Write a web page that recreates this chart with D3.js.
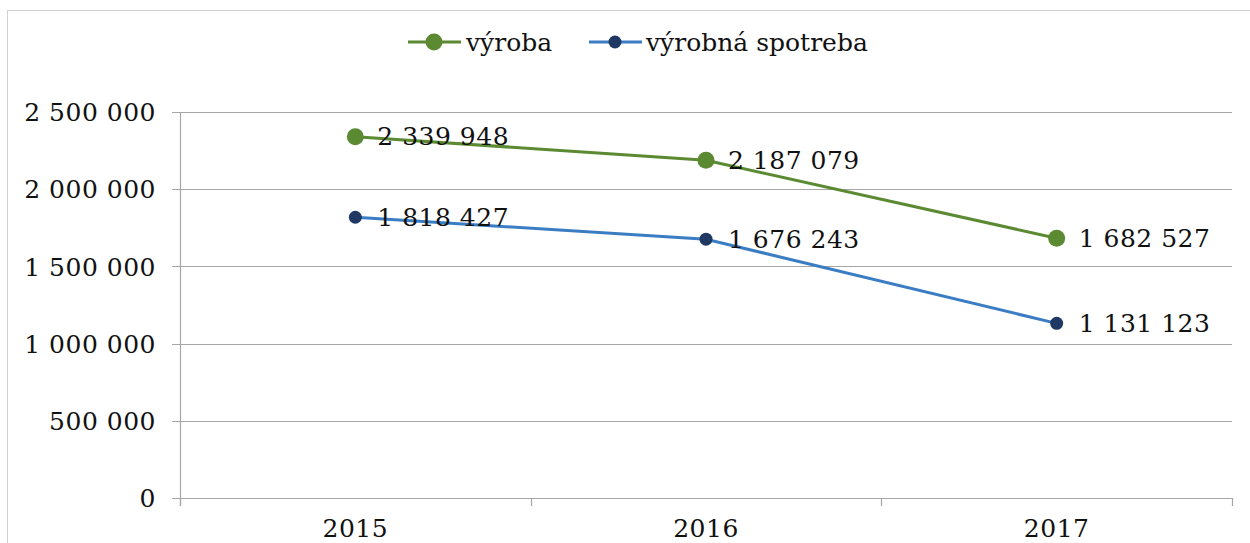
<!DOCTYPE html>
<html>
<head>
<meta charset="utf-8">
<script src="https://cdn.jsdelivr.net/npm/d3@7"></script>
<style>
  html, body { margin: 0; padding: 0; background: #fff; }
  svg { display: block; }
  text { font-family: "DejaVu Serif", serif; fill: #111; }
</style>
</head>
<body>
<svg id="chart" width="1250" height="543"></svg>
<script>
const categories = ["2015", "2016", "2017"];
const seriesNames = ["výroba", "výrobná spotreba"];
const vyroba = [2339948, 2187079, 1682527];
const spotreba = [1818427, 1676243, 1131123];
const yTicks = [0, 500000, 1000000, 1500000, 2000000, 2500000];

const FS = 25;
const svg = d3.select("#chart");

// outer frame
svg.append("rect").attr("x", 7.5).attr("y", 10.5).attr("width", 1260).attr("height", 560)
  .attr("fill", "none").attr("stroke", "#d0d0d0").attr("stroke-width", 1);

const x = d3.scaleBand().domain(categories).range([180, 1232]).padding(0);
const y = d3.scaleLinear().domain([0, 2500000]).range([498, 112]);

const fmt = v => d3.format(",")(v).replace(/,/g, " ");

// grid lines
svg.append("g").selectAll("line").data(yTicks).join("line")
  .attr("x1", 172).attr("x2", 1232)
  .attr("y1", d => Math.round(y(d)) + 0.5).attr("y2", d => Math.round(y(d)) + 0.5)
  .attr("stroke", "#a6a6a6").attr("stroke-width", 1.2);

// y axis line
svg.append("line").attr("x1", 180.5).attr("x2", 180.5).attr("y1", 112).attr("y2", 506)
  .attr("stroke", "#a6a6a6").attr("stroke-width", 1.2);

// y labels
const yAxis = d3.axisLeft(y).tickValues(yTicks).tickSize(0).tickPadding(0).tickFormat(fmt);
const gy = svg.append("g").attr("transform", "translate(156,0)").call(yAxis);
gy.select(".domain").remove();
gy.selectAll("text").attr("font-size", FS).attr("font-family", "DejaVu Serif")
  .attr("fill", "#111").attr("letter-spacing", 0.5).attr("dy", "0.35em");

// x axis ticks at band boundaries
const bounds = categories.map(c => x(c)).concat([x.range()[1]]);
svg.append("g").selectAll("line").data(bounds).join("line")
  .attr("x1", d => Math.round(d) + 0.5).attr("x2", d => Math.round(d) + 0.5)
  .attr("y1", 498).attr("y2", 506)
  .attr("stroke", "#a6a6a6").attr("stroke-width", 1.2);

// x labels
svg.append("g").selectAll("text").data(categories).join("text")
  .attr("x", d => x(d) + x.bandwidth() / 2).attr("y", 537)
  .attr("text-anchor", "middle").attr("font-size", FS).attr("letter-spacing", 0.5).text(d => d);

const series = [
  { name: seriesNames[0], values: vyroba, line: "#5b8a32", marker: "#5b8a32", r: 8.5 },
  { name: seriesNames[1], values: spotreba, line: "#3a7dc4", marker: "#1f3864", r: 6.5 }
];

const lineGen = d3.line().x((d, i) => x(categories[i]) + x.bandwidth() / 2).y(d => y(d));

series.forEach(s => {
  svg.append("path").datum(s.values).attr("d", lineGen)
    .attr("fill", "none").attr("stroke", s.line).attr("stroke-width", 3);
  svg.append("g").selectAll("circle").data(s.values).join("circle")
    .attr("cx", (d, i) => x(categories[i]) + x.bandwidth() / 2).attr("cy", d => y(d))
    .attr("r", s.r).attr("fill", s.marker);
});
series.forEach(s => {
  svg.append("g").selectAll("text").data(s.values).join("text")
    .attr("x", (d, i) => x(categories[i]) + x.bandwidth() / 2 + 22)
    .attr("y", d => y(d)).attr("dy", "0.35em")
    .attr("font-size", FS).attr("letter-spacing", 0.5).text(d => fmt(d));
});

// legend
const legendItems = [
  { s: series[0], x0: 408, tx: 466 },
  { s: series[1], x0: 589, tx: 646 }
];
const lg = svg.append("g");
legendItems.forEach(it => {
  lg.append("line").attr("x1", it.x0).attr("x2", it.x0 + 53).attr("y1", 42).attr("y2", 42)
    .attr("stroke", it.s.line).attr("stroke-width", 3);
  lg.append("circle").attr("cx", it.x0 + 26).attr("cy", 42).attr("r", it.s.r).attr("fill", it.s.marker);
  lg.append("text").attr("x", it.tx).attr("y", 42).attr("dy", "0.35em").attr("font-size", FS).text(it.s.name);
});
</script>
</body>
</html>
